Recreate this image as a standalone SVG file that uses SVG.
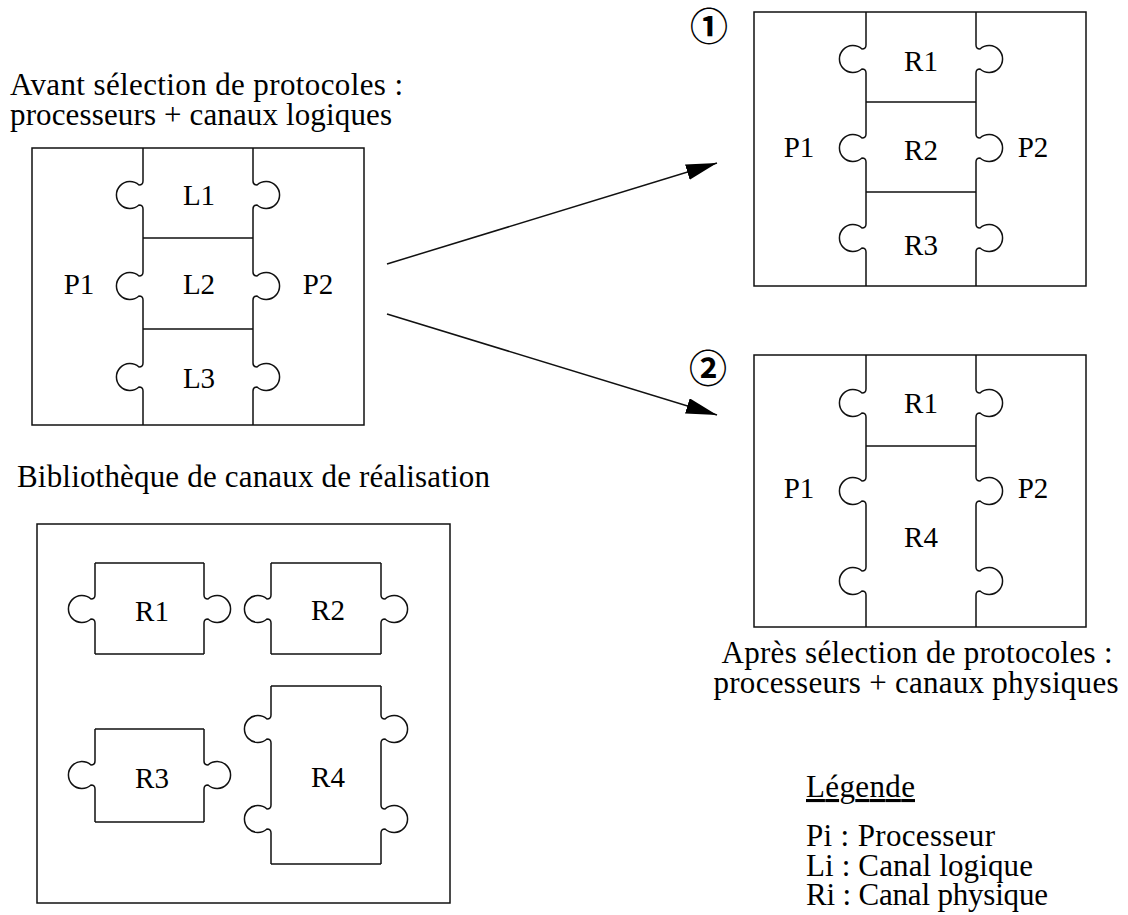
<svg xmlns="http://www.w3.org/2000/svg" width="1128" height="915" viewBox="0 0 1128 915">
<style>
  .ln{fill:none;stroke:#111;stroke-width:1.5}
  .t{font-family:"Liberation Serif","Times New Roman",serif;fill:#000}
  .lb{font-size:29px;text-anchor:middle}
  .hd{font-size:31px}
  .num{font-family:"Noto Sans CJK JP","DejaVu Sans",sans-serif;font-size:38px;font-weight:bold;text-anchor:middle;fill:#000}
</style>
<defs>
  <marker id="ah" markerUnits="userSpaceOnUse" markerWidth="34" markerHeight="18" refX="31" refY="8" orient="auto">
    <path d="M0,0 L31,8 L0,16 Z" fill="#000"/>
  </marker>
</defs>
<rect width="1128" height="915" fill="#fff"/>

<text class="t hd" x="10" y="95" textLength="393" lengthAdjust="spacing">Avant sélection de protocoles :</text>
<text class="t hd" x="10" y="125" textLength="382" lengthAdjust="spacing">processeurs + canaux logiques</text>

<g id="avant">
  <rect class="ln" x="32" y="148" width="332" height="277"/>
  <path class="ln" d="M143,148 V181 q0,4 -4,4 a13.5,13.5 0 1 0 0,20 q4,0 4,4 V272 q0,4 -4,4 a13.5,13.5 0 1 0 0,20 q4,0 4,4 V363 q0,4 -4,4 a13.5,13.5 0 1 0 0,20 q4,0 4,4 V425"/>
  <path class="ln" d="M253,148 V181 q0,4 4,4 a13.5,13.5 0 1 1 0,20 q-4,0 -4,4 V272 q0,4 4,4 a13.5,13.5 0 1 1 0,20 q-4,0 -4,4 V363 q0,4 4,4 a13.5,13.5 0 1 1 0,20 q-4,0 -4,4 V425"/>
  <path class="ln" d="M143,238 H253 M143,329 H253"/>
  <text class="t lb" x="79" y="294">P1</text>
  <text class="t lb" x="318" y="294">P2</text>
  <text class="t lb" x="199" y="205">L1</text>
  <text class="t lb" x="199" y="294">L2</text>
  <text class="t lb" x="199" y="388">L3</text>
</g>

<g id="connectors">
  <line class="ln" x1="387" y1="264" x2="717" y2="163" marker-end="url(#ah)"/>
  <line class="ln" x1="387" y1="314" x2="717" y2="415" marker-end="url(#ah)"/>
</g>

<text class="num" x="709" y="40">①</text>
<g id="apres1">
  <rect class="ln" x="754" y="12" width="332" height="274"/>
  <path class="ln" d="M866,12 V45 q0,4 -4,4 a13.5,13.5 0 1 0 0,20 q4,0 4,4 V134 q0,4 -4,4 a13.5,13.5 0 1 0 0,20 q4,0 4,4 V224 q0,4 -4,4 a13.5,13.5 0 1 0 0,20 q4,0 4,4 V286"/>
  <path class="ln" d="M976,12 V45 q0,4 4,4 a13.5,13.5 0 1 1 0,20 q-4,0 -4,4 V134 q0,4 4,4 a13.5,13.5 0 1 1 0,20 q-4,0 -4,4 V224 q0,4 4,4 a13.5,13.5 0 1 1 0,20 q-4,0 -4,4 V286"/>
  <path class="ln" d="M866,102 H976 M866,192 H976"/>
  <text class="t lb" x="799" y="157">P1</text>
  <text class="t lb" x="1033" y="157">P2</text>
  <text class="t lb" x="921" y="71">R1</text>
  <text class="t lb" x="921" y="160">R2</text>
  <text class="t lb" x="921" y="255">R3</text>
</g>

<text class="num" x="708" y="382">②</text>
<g id="apres2">
  <rect class="ln" x="754" y="355" width="332" height="272"/>
  <path class="ln" d="M866,355 V389 q0,4 -4,4 a13.5,13.5 0 1 0 0,20 q4,0 4,4 V477 q0,4 -4,4 a13.5,13.5 0 1 0 0,20 q4,0 4,4 V567 q0,4 -4,4 a13.5,13.5 0 1 0 0,20 q4,0 4,4 V627"/>
  <path class="ln" d="M976,355 V389 q0,4 4,4 a13.5,13.5 0 1 1 0,20 q-4,0 -4,4 V477 q0,4 4,4 a13.5,13.5 0 1 1 0,20 q-4,0 -4,4 V567 q0,4 4,4 a13.5,13.5 0 1 1 0,20 q-4,0 -4,4 V627"/>
  <path class="ln" d="M866,446 H976"/>
  <text class="t lb" x="799" y="498">P1</text>
  <text class="t lb" x="1033" y="498">P2</text>
  <text class="t lb" x="921" y="413">R1</text>
  <text class="t lb" x="921" y="547">R4</text>
</g>

<text class="t hd" x="917" y="663" text-anchor="middle" textLength="391" lengthAdjust="spacing">Après sélection de protocoles :</text>
<text class="t hd" x="916" y="693" text-anchor="middle" textLength="405" lengthAdjust="spacing">processeurs + canaux physiques</text>

<text class="t hd" x="17" y="487" textLength="473" lengthAdjust="spacing">Bibliothèque de canaux de réalisation</text>
<g id="bibliotheque">
  <rect class="ln" x="37" y="524" width="413" height="379"/>
  <g id="lib-r1">
    <path class="ln" d="M95,563 H204 M95,654 H204 M95,563 V595 q0,4 -4,4 a13.5,13.5 0 1 0 0,20 q4,0 4,4 V654 M204,563 V595 q0,4 4,4 a13.5,13.5 0 1 1 0,20 q-4,0 -4,4 V654"/>
    <text class="t lb" x="152" y="621">R1</text>
  </g>
  <g id="lib-r2">
    <path class="ln" d="M271,563 H381 M271,654 H381 M271,563 V595 q0,4 -4,4 a13.5,13.5 0 1 0 0,20 q4,0 4,4 V654 M381,563 V595 q0,4 4,4 a13.5,13.5 0 1 1 0,20 q-4,0 -4,4 V654"/>
    <text class="t lb" x="328" y="620">R2</text>
  </g>
  <g id="lib-r3">
    <path class="ln" d="M95,729 H204 M95,822 H204 M95,729 V761 q0,4 -4,4 a13.5,13.5 0 1 0 0,20 q4,0 4,4 V822 M204,729 V761 q0,4 4,4 a13.5,13.5 0 1 1 0,20 q-4,0 -4,4 V822"/>
    <text class="t lb" x="152" y="788">R3</text>
  </g>
  <g id="lib-r4">
    <path class="ln" d="M271,686 H381 M271,864 H381 M271,686 V715 q0,4 -4,4 a13.5,13.5 0 1 0 0,20 q4,0 4,4 V805 q0,4 -4,4 a13.5,13.5 0 1 0 0,20 q4,0 4,4 V864 M381,686 V715 q0,4 4,4 a13.5,13.5 0 1 1 0,20 q-4,0 -4,4 V805 q0,4 4,4 a13.5,13.5 0 1 1 0,20 q-4,0 -4,4 V864"/>
    <text class="t lb" x="328" y="787">R4</text>
  </g>
</g>

<g id="legende">
  <text class="t hd" x="806" y="797" textLength="109" lengthAdjust="spacing" text-decoration="underline">Légende</text>
  <text class="t hd" x="806" y="846" textLength="189" lengthAdjust="spacing">Pi : Processeur</text>
  <text class="t hd" x="806" y="876" textLength="227" lengthAdjust="spacing">Li : Canal logique</text>
  <text class="t hd" x="806" y="905" textLength="242" lengthAdjust="spacing">Ri : Canal physique</text>
</g>
</svg>
